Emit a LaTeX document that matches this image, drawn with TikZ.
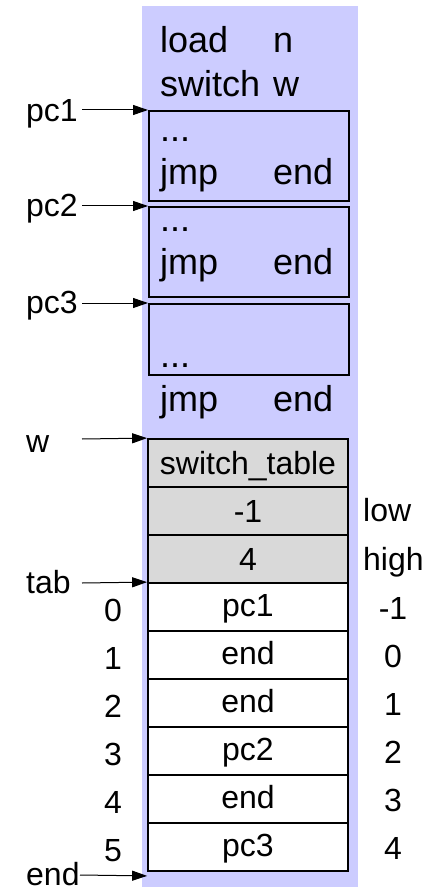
\documentclass[tikz,border=0pt]{standalone}
\usepackage{fontspec}
\setmainfont{Liberation Sans}
\usetikzlibrary{arrows.meta}
\definecolor{lav}{HTML}{CCCCFF}
\definecolor{cellgray}{HTML}{D9D9D9}
\begin{document}
\begin{tikzpicture}[x=1pt,y=-1pt,
  up/.style={inner sep=0pt, anchor=base west, font=\fontsize{36}{44}\selectfont},
  lab/.style={inner sep=0pt, font=\fontsize{32}{38}\selectfont},
  codebox/.style={draw, line width=1.8pt, minimum width=200pt, inner sep=0pt, anchor=north west},
  cell/.style={draw, line width=1.8pt, minimum width=200pt, minimum height=48pt, inner sep=0pt, text depth=0pt, font=\fontsize{32}{38}\selectfont},
  gcell/.style={cell, fill=cellgray, text height=22pt},
  wcell/.style={cell, fill=white, text height=19pt},
  arr/.style={line width=1pt, -{Triangle[length=15pt,width=10pt]}}
]
\useasboundingbox (0,0) rectangle (436,890);
\fill[lav] (142,6) rectangle (358,887);

% code boxes
\node[codebox, minimum height=90pt] (b1) at (148,110) {};
\node[codebox, minimum height=90pt] (b2) at (148,206) {};
\node[codebox, minimum height=71pt] (b3) at (148,303) {};

% code text
\node[up] (t1a) at (160,53) {load};
\node[up] (t1b) at (273,53) {n};
\node[up] (t2a) at (160,97) {switch};
\node[up] (t2b) at (273,97) {w};
\node[up] (t3) at (160,142) {...};
\node[up] (t4a) at (160,185) {jmp};
\node[up] (t4b) at (273,185) {end};
\node[up] (t5) at (160,232) {...};
\node[up] (t6a) at (160,275) {jmp};
\node[up] (t6b) at (273,275) {end};
\node[up] (t7) at (160,367) {...};
\node[up] (t8a) at (160,411) {jmp};
\node[up] (t8b) at (273,411) {end};

% table
\node[gcell] (st) at (248,463) {switch\_table};
\node[gcell] (lo) at (248,511) {-1};
\node[gcell] (hi) at (248,559) {4};
\foreach \v [count=\i from 0] in {pc1,end,end,pc2,end,pc3}
  \node[wcell] (r\i) at (248,607+48*\i) {\v};

\node[lab, anchor=base west] (llow) at (363,521) {low};
\node[lab, anchor=base west] (lhigh) at (363,570) {high};

\foreach \i in {0,...,5}
  \node[lab, anchor=base] (n\i) at (113,621+48*\i) {\i};
\foreach \v [count=\i from 0] in {-1,0,1,2,3,4}
  \node[lab, anchor=base] (m\i) at (393,619+48*\i) {\v};

% left labels and arrows
\node[lab, anchor=base west] (lpc1) at (26,122) {pc1};
\node[lab, anchor=base west] (lpc2) at (26,217) {pc2};
\node[lab, anchor=base west] (lpc3) at (26,313) {pc3};
\node[lab, anchor=base west] (lw) at (26,452) {w};
\node[lab, anchor=base west] (ltab) at (26,593) {tab};
\node[lab, anchor=base west] (lend) at (26,885) {end};

\coordinate (a1) at (82,110);
\coordinate (a2) at (82,206);
\coordinate (a3) at (82,303);
\coordinate (aw) at (82,439);
\coordinate (at) at (82,583);
\coordinate (ae) at (80,875);

\draw[arr] (a1) -- (b1.north west);
\draw[arr] (a2) -- (b2.north west);
\draw[arr] (a3) -- (b3.north west);
\draw[arr] (aw) -- (st.north west);
\draw[arr] (at) -- (r0.north west);
\draw[arr] (ae) -- ([yshift=-4pt]r5.south west);
\end{tikzpicture}
\end{document}
